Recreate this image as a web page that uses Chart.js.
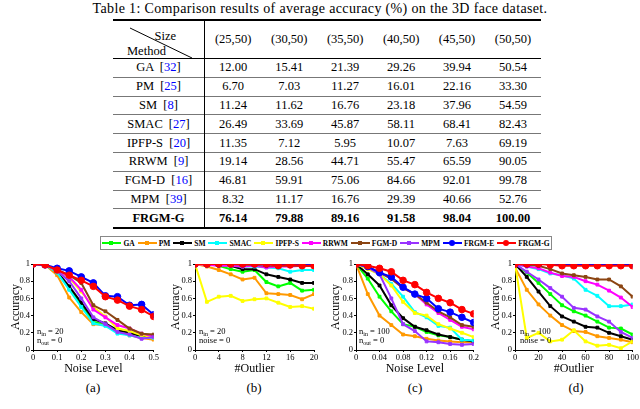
<!DOCTYPE html>
<html>
<head>
<meta charset="utf-8">
<script src="https://cdn.jsdelivr.net/npm/chart.js@4.4.1/dist/chart.umd.min.js"></script>
<style>
  body { margin: 0; width: 640px; height: 409px; background: #fff; overflow: hidden; position: relative; font-family: "Liberation Serif", "DejaVu Serif", serif; color: #000; }
  #caption { position: absolute; top: 1px; left: 0; width: 640px; text-align: center; font-size: 14px; letter-spacing: 0.35px; }
  #tbl { position: absolute; left: 113px; top: 19px; width: 428px; border-collapse: collapse; font-size: 12.5px; }
  #tbl td { text-align: center; padding: 0; height: 17.8px; border-top: 1px solid #777; }
  #tbl tr.head td { height: 37px; border-top: 2px solid #000; border-bottom: 1px solid #000; }
  #tbl tr.last td { border-bottom: 2px solid #000; font-weight: bold; }
  #tbl td.m { width: 91px; border-right: 1px solid #000; }
  #tbl .ref { color: #00f; }
  .diag { position: relative; height: 37px; }
  .diag svg { position: absolute; left: 0; top: 0; }
  .diag .s { position: absolute; right: 28px; top: 8px; }
  .diag .me { position: absolute; left: 14px; top: 23px; }
  #legend { position: absolute; left: 100px; top: 236px; width: 452px; height: 14px; border: 1px solid #888; box-sizing: border-box; display: flex; align-items: center; justify-content: space-around; font-size: 7.5px; font-weight: bold; }
  .li { display: flex; align-items: center; }
  .sw { position: relative; width: 19px; height: 2px; margin-right: 2px; }
  .sw i { position: absolute; left: 7px; top: -1px; width: 4px; height: 4px; }
  .sw i.c { left: 6px; top: -2px; width: 6px; height: 6px; border-radius: 50%; }
  canvas { position: absolute; }
  .note { position: absolute; font-size: 8.5px; line-height: 9px; }
  .note div { height: 9px; }
  .note sub { font-size: 6px; line-height: 0; vertical-align: -2px; }
  .sub { position: absolute; top: 380px; font-size: 13px; width: 30px; text-align: center; }
</style>
</head>
<body>
<div id="caption">Table 1: Comparison results of average accuracy (%) on the 3D face dataset.</div>
<table id="tbl"></table>
<div id="legend"></div>

<canvas id="ca" width="160" height="120" style="left:0;top:256px"></canvas>
<canvas id="cb" width="160" height="120" style="left:160px;top:256px"></canvas>
<canvas id="cc" width="160" height="120" style="left:320px;top:256px"></canvas>
<canvas id="cd" width="160" height="120" style="left:480px;top:256px"></canvas>

<div class="note" style="left:37px;top:327px"><div>n<sub>in</sub> = 20</div><div>n<sub>out</sub> = 0</div></div>
<div class="note" style="left:199px;top:327px"><div>n<sub>in</sub> = 20</div><div>noise = 0</div></div>
<div class="note" style="left:359px;top:327px"><div>n<sub>in</sub> = 100</div><div>n<sub>out</sub> = 0</div></div>
<div class="note" style="left:520px;top:327px"><div>n<sub>in</sub> = 100</div><div>noise = 0</div></div>

<div class="sub" style="left:78px">(a)</div>
<div class="sub" style="left:239px">(b)</div>
<div class="sub" style="left:400px">(c)</div>
<div class="sub" style="left:561px">(d)</div>

<script>
// table data
const sizes = ["(25,50)", "(30,50)", "(35,50)", "(40,50)", "(45,50)", "(50,50)"];
const tableMethods = ["GA", "PM", "SM", "SMAC", "IPFP-S", "RRWM", "FGM-D", "MPM", "FRGM-G"];
const tableRefs = ["32", "25", "8", "27", "20", "9", "16", "39", ""];
const tableValues = [
    ["12.00", "15.41", "21.39", "29.26", "39.94", "50.54"],
    ["6.70", "7.03", "11.27", "16.01", "22.16", "33.30"],
    ["11.24", "11.62", "16.76", "23.18", "37.96", "54.59"],
    ["26.49", "33.69", "45.87", "58.11", "68.41", "82.43"],
    ["11.35", "7.12", "5.95", "10.07", "7.63", "69.19"],
    ["19.14", "28.56", "44.71", "55.47", "65.59", "90.05"],
    ["46.81", "59.91", "75.06", "84.66", "92.01", "99.78"],
    ["8.32", "11.17", "16.76", "29.39", "40.66", "52.76"],
    ["76.14", "79.88", "89.16", "91.58", "98.04", "100.00"]
];

// chart data (series order follows the legend)
const methods = ["GA", "PM", "SM", "SMAC", "IPFP-S", "RRWM", "FGM-D", "MPM", "FRGM-E", "FRGM-G"];
const colors = ["#00ff00", "#ff9900", "#000000", "#00ffff", "#ffff00", "#ff00ff", "#8b4513", "#9933ff", "#0000ff", "#ff0000"];

const noiseA = [0, 0.05, 0.1, 0.15, 0.2, 0.25, 0.3, 0.35, 0.4, 0.45, 0.5];
const accA = [
    [1, 0.99, 0.90, 0.72, 0.52, 0.33, 0.29, 0.22, 0.18, 0.16, 0.16],
    [1, 0.99, 0.87, 0.61, 0.44, 0.30, 0.29, 0.21, 0.17, 0.14, 0.12],
    [1, 0.99, 0.91, 0.74, 0.55, 0.36, 0.31, 0.23, 0.20, 0.16, 0.17],
    [1, 0.99, 0.90, 0.70, 0.50, 0.31, 0.28, 0.19, 0.17, 0.14, 0.14],
    [1, 0.99, 0.92, 0.84, 0.68, 0.50, 0.39, 0.25, 0.22, 0.17, 0.15],
    [1, 0.99, 0.93, 0.85, 0.70, 0.47, 0.38, 0.29, 0.25, 0.19, 0.16],
    [1, 0.99, 0.93, 0.87, 0.78, 0.52, 0.45, 0.35, 0.25, 0.19, 0.18],
    [1, 0.99, 0.92, 0.80, 0.60, 0.38, 0.30, 0.21, 0.18, 0.13, 0.15],
    [1, 0.99, 0.95, 0.92, 0.85, 0.78, 0.63, 0.62, 0.52, 0.53, 0.41],
    [1, 0.99, 0.93, 0.87, 0.81, 0.74, 0.62, 0.58, 0.51, 0.47, 0.39]
];

const outlierB = [0, 2, 4, 6, 8, 10, 12, 14, 16, 18, 20];
const accB = [
    [1, 1, 0.98, 0.94, 0.91, 0.93, 0.79, 0.74, 0.78, 0.69, 0.70],
    [1, 0.97, 0.93, 0.88, 0.82, 0.84, 0.66, 0.65, 0.64, 0.59, 0.65],
    [1, 1, 0.99, 0.98, 0.94, 0.94, 0.88, 0.85, 0.82, 0.78, 0.78],
    [1, 1, 1, 0.98, 0.97, 0.97, 0.96, 0.95, 0.91, 0.93, 0.93],
    [1, 0.56, 0.62, 0.63, 0.57, 0.59, 0.60, 0.55, 0.50, 0.51, 0.48],
    [1, 0.99, 0.98, 0.98, 0.97, 0.98, 0.96, 0.97, 0.97, 0.98, 0.98],
    [1, 1, 1, 1, 0.99, 0.99, 0.98, 0.98, 0.98, 0.98, 0.98],
    [1, 1, 1, 1, 1, 1, 0.99, 0.99, 0.99, 0.99, 0.99],
    [1, 1, 1, 1, 1, 1, 1, 1, 1, 1, 1],
    [1, 1, 1, 1, 1, 1, 1, 0.98, 0.99, 0.98, 0.98]
];

const noiseC = [0, 0.02, 0.04, 0.06, 0.08, 0.1, 0.12, 0.14, 0.16, 0.18, 0.2];
const accC = [
    [1, 0.83, 0.62, 0.45, 0.30, 0.27, 0.21, 0.17, 0.15, 0.12, 0.10],
    [1, 0.65, 0.40, 0.29, 0.18, 0.16, 0.13, 0.11, 0.10, 0.09, 0.09],
    [1, 0.88, 0.75, 0.52, 0.37, 0.27, 0.23, 0.18, 0.15, 0.12, 0.10],
    [1, 0.95, 0.88, 0.77, 0.62, 0.44, 0.38, 0.28, 0.26, 0.12, 0.11],
    [1, 0.94, 0.88, 0.75, 0.56, 0.43, 0.40, 0.30, 0.25, 0.20, 0.15],
    [1, 0.97, 0.90, 0.83, 0.72, 0.65, 0.53, 0.43, 0.35, 0.27, 0.24],
    [1, 0.97, 0.90, 0.83, 0.72, 0.65, 0.55, 0.45, 0.38, 0.29, 0.27],
    [1, 0.96, 0.88, 0.60, 0.30, 0.22, 0.10, 0.09, 0.07, 0.06, 0.07],
    [1, 0.97, 0.90, 0.85, 0.73, 0.65, 0.60, 0.48, 0.44, 0.38, 0.32],
    [1, 0.98, 0.95, 0.91, 0.81, 0.76, 0.67, 0.60, 0.55, 0.47, 0.42]
];

const outlierD = [0, 10, 20, 30, 40, 50, 60, 70, 80, 90, 100];
const accD = [
    [1, 0.90, 0.78, 0.65, 0.52, 0.45, 0.40, 0.33, 0.26, 0.25, 0.18],
    [0.96, 0.70, 0.53, 0.40, 0.29, 0.22, 0.21, 0.16, 0.14, 0.12, 0.09],
    [1, 0.85, 0.68, 0.51, 0.39, 0.33, 0.27, 0.26, 0.20, 0.16, 0.12],
    [1, 0.97, 0.94, 0.89, 0.87, 0.83, 0.70, 0.63, 0.51, 0.51, 0.53],
    [1, 0.14, 0.20, 0.10, 0.12, 0.23, 0.10, 0.05, 0.06, 0.02, 0.10],
    [1, 0.97, 0.95, 0.90, 0.86, 0.85, 0.80, 0.76, 0.69, 0.61, 0.50],
    [1, 0.99, 0.98, 0.94, 0.89, 0.87, 0.85, 0.82, 0.82, 0.74, 0.62],
    [1, 0.91, 0.82, 0.72, 0.62, 0.49, 0.47, 0.39, 0.33, 0.21, 0.14],
    [1, 1, 1, 1, 1, 1, 1, 1, 1, 1, 1],
    [1, 1, 1, 0.99, 0.98, 0.98, 0.98, 0.98, 0.98, 0.98, 0.98]
];

// build table
const tbl = document.getElementById("tbl");
let html = '<tr class="head"><td class="m"><div class="diag">' +
    '<svg width="91" height="37"><line x1="17" y1="7" x2="79" y2="37" stroke="#000" stroke-width="1"/></svg>' +
    '<span class="s">Size</span><span class="me">Method</span></div></td>';
sizes.forEach(s => { html += "<td>" + s + "</td>"; });
html += "</tr>";
tableMethods.forEach((m, i) => {
    const last = i === tableMethods.length - 1;
    html += '<tr' + (last ? ' class="last"' : '') + '><td class="m">' + m;
    if (tableRefs[i]) html += ' <span style="margin-left:3px">[<span class="ref">' + tableRefs[i] + '</span>]</span>';
    html += "</td>";
    tableValues[i].forEach(v => { html += "<td>" + v + "</td>"; });
    html += "</tr>";
});
tbl.innerHTML = html;

// legend
const legend = document.getElementById("legend");
methods.forEach((m, i) => {
    const circ = i >= 8;
    legend.innerHTML += '<div class="li"><div class="sw" style="background:' + colors[i] + '"><i class="' + (circ ? 'c' : '') +
        '" style="background:' + colors[i] + '"></i></div>' + m + '</div>';
});

const serif = "'Liberation Serif', 'DejaVu Serif', serif";
const fmt = v => String(+v.toFixed(2));

function makeChart(id, xs, acc, xMax, xStep, xTitle, yWidth) {
    const ctx = document.getElementById(id).getContext("2d");
    return new Chart(ctx, {
        type: "line",
        data: {
            datasets: methods.map((m, i) => ({
                label: m,
                data: xs.map((x, j) => ({ x: x, y: acc[i][j] })),
                borderColor: colors[i],
                backgroundColor: colors[i],
                borderWidth: 2,
                pointStyle: i >= 8 ? "circle" : "rect",
                pointRadius: i >= 8 ? 3.3 : 2,
                pointBorderWidth: 1,
                order: methods.length - 1 - i
            }))
        },
        options: {
            responsive: false,
            animation: false,
            layout: { padding: { top: 8, right: 6, left: 0, bottom: 0 } },
            plugins: { legend: { display: false }, tooltip: { enabled: false } },
            scales: {
                x: {
                    type: "linear",
                    min: 0,
                    max: xMax,
                    afterFit: s => { s.height = 26; },
                    ticks: { stepSize: xStep, autoSkip: false, maxRotation: 0, padding: 1, color: "#000", callback: fmt, font: { family: serif, size: 8.5 } },
                    grid: { drawOnChartArea: false, tickLength: 2, color: "#000" },
                    border: { color: "#000" },
                    title: { display: true, text: xTitle, color: "#000", padding: 0, font: { family: serif, size: 12 } }
                },
                y: {
                    min: 0,
                    max: 1,
                    afterFit: s => { s.width = yWidth; },
                    ticks: { stepSize: 0.2, padding: 1, color: "#000", callback: fmt, font: { family: serif, size: 8.5 } },
                    grid: { drawOnChartArea: false, tickLength: 2, color: "#000" },
                    border: { color: "#000" },
                    title: { display: true, text: "Accuracy", color: "#000", padding: { top: 9, bottom: 0 }, font: { family: serif, size: 12 } }
                }
            }
        }
    });
}

makeChart("ca", noiseA, accA, 0.5, 0.1, "Noise Level", 33);
makeChart("cb", outlierB, accB, 20, 4, "#Outlier", 35);
makeChart("cc", noiseC, accC, 0.2, 0.04, "Noise Level", 36);
makeChart("cd", outlierD, accD, 100, 20, "#Outlier", 35);
</script>
</body>
</html>
